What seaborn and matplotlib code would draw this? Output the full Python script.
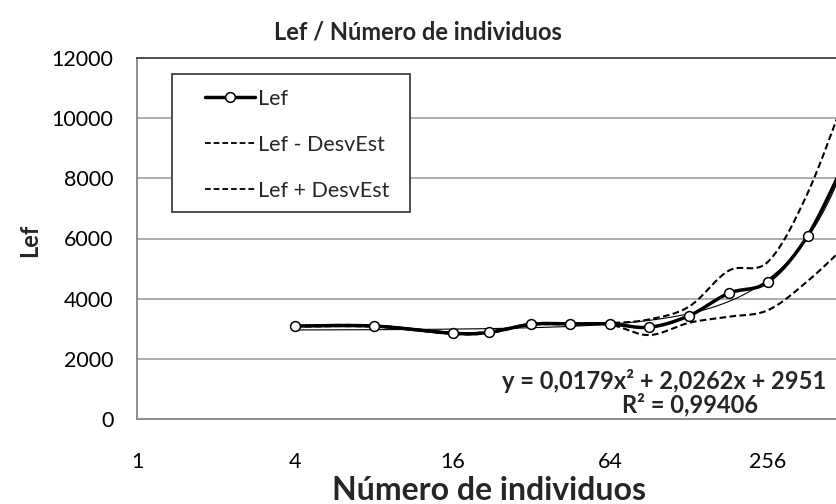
import numpy as np
import matplotlib
matplotlib.use("Agg")
import matplotlib.pyplot as plt
from matplotlib.lines import Line2D
from matplotlib.patches import Rectangle
from matplotlib.ticker import FixedLocator, FixedFormatter, NullLocator
import seaborn as sns

# Number of individuals (x) and effective length per group
individuos = [4, 8, 16, 22, 32, 45, 64, 90, 128, 181, 256, 362, 512]
lef = [3090, 3090, 2850, 2880, 3150, 3160, 3160, 3050, 3435, 4180, 4555, 6085, 8700]
lef_menos = [3070, 3070, 2830, 2860, 3130, 3140, 3130, 2790, 3200, 3400, 3620, 4580, 5800]
lef_mas = [3110, 3110, 2870, 2900, 3170, 3180, 3190, 3310, 3740, 4930, 5230, 7500, 10900]

# Polynomial trendline coefficients (a*x^2 + b*x + c) and fit quality
coef_a, coef_b, coef_c = 0.0179, 2.0262, 2951
r2 = 0.99406

x_ticks = [1, 4, 16, 64, 256]
y_ticks = [0, 2000, 4000, 6000, 8000, 10000, 12000]

sns.set_style("white")
plt.rcParams["font.family"] = ["Lato", "DejaVu Sans"]


def smooth_curve(xs, ys, n=40):
    """Bezier smoothing (Catmull-Rom style) in log2(x) space."""
    u = np.log2(np.asarray(xs, dtype=float))
    v = np.asarray(ys, dtype=float)
    pts = np.column_stack([u, v])
    ext = np.vstack([pts[0], pts, pts[-1]])
    t = np.linspace(0, 1, n)[:, None]
    out = []
    for i in range(len(pts) - 1):
        p0, p1, p2, p3 = ext[i], ext[i + 1], ext[i + 2], ext[i + 3]
        c1 = p1 + (p2 - p0) / 6.0
        c2 = p2 - (p3 - p1) / 6.0
        seg = ((1 - t) ** 3) * p1 + 3 * ((1 - t) ** 2) * t * c1 \
            + 3 * (1 - t) * t ** 2 * c2 + t ** 3 * p2
        out.append(seg if i == 0 else seg[1:])
    curve = np.vstack(out)
    return 2.0 ** curve[:, 0], curve[:, 1]


fig = plt.figure(figsize=(8.36, 5.04), dpi=100)
W, H = 836, 504
ax = fig.add_axes([137 / W, 1 - 419 / H, (847 - 137) / W, (419 - 58) / H])
ax.set_xscale("log", base=2)
ax.set_xlim(1, 512)
ax.set_ylim(0, 12000)

grid_c = "#a6a6a6"
for yv in y_ticks[1:-1]:
    ax.axhline(yv, color=grid_c, lw=1.3, zorder=0)

dash = (0, (3.2, 1.6))
xs, ys = smooth_curve(individuos, lef_menos)
sns.lineplot(x=xs, y=ys, ax=ax, sort=False, estimator=None, color="black",
             lw=1.5, linestyle=dash, zorder=2)
xs, ys = smooth_curve(individuos, lef_mas)
sns.lineplot(x=xs, y=ys, ax=ax, sort=False, estimator=None, color="black",
             lw=1.5, linestyle=dash, zorder=2)

# Trendline from the fitted polynomial
xt = np.geomspace(individuos[0], individuos[-1], 300)
yt = coef_a * xt ** 2 + coef_b * xt + coef_c
sns.lineplot(x=xt, y=yt, ax=ax, sort=False, estimator=None, color="black",
             lw=0.8, zorder=3)

xs, ys = smooth_curve(individuos, lef)
sns.lineplot(x=xs, y=ys, ax=ax, sort=False, estimator=None, color="black",
             lw=2.5, zorder=4)
sns.scatterplot(x=individuos, y=lef, ax=ax, marker="o", s=50, facecolor="white",
                edgecolor="black", linewidth=1.1, zorder=5, clip_on=True)

ax.xaxis.set_major_locator(FixedLocator(x_ticks))
ax.xaxis.set_major_formatter(FixedFormatter([str(v) for v in x_ticks]))
ax.xaxis.set_minor_locator(NullLocator())
ax.set_yticks(y_ticks)
ax.set_yticklabels([str(v) for v in y_ticks])
ax.tick_params(axis="x", length=0, pad=24, labelsize=15.5, labelcolor="black")
ax.tick_params(axis="y", length=0, pad=17, labelsize=15.5, labelcolor="black")

for side in ("left", "bottom"):
    ax.spines[side].set_color("#868686")
    ax.spines[side].set_linewidth(1.3)
ax.spines["top"].set_color("#404040")
ax.spines["top"].set_linewidth(1.3)
ax.spines["right"].set_visible(False)

fig.text(0.5, 1 - 32 / H, "Lef / Número de individuos", ha="center", va="center",
         fontsize=17, fontweight="bold")
fig.text(489 / W, 1 - 500 / H, "Número de individuos", ha="center", va="baseline",
         fontsize=23, fontweight="bold")
fig.text(30 / W, 1 - 240 / H, "Lef", ha="center", va="center", rotation=90,
         fontsize=17, fontweight="bold")

fig.text(826 / W, 1 - 381 / H, "y = 0,0179x² + 2,0262x + 2951", ha="right",
         va="center", fontsize=17, fontweight="bold")
fig.text(690 / W, 1 - 405 / H, f"R² = {str(r2).replace('.', ',')}", ha="center",
         va="center", fontsize=17, fontweight="bold")

# Legend box
fig.patches.append(Rectangle((172 / W, 1 - 212 / H), (410 - 172) / W, (212 - 74) / H,
                             transform=fig.transFigure, fill=True, facecolor="white",
                             edgecolor="#404040", lw=1.3, zorder=6))
handles = [
    Line2D([], [], color="black", lw=2.5, marker="o", markersize=7,
           markerfacecolor="white", markeredgecolor="black", markeredgewidth=1.1),
    Line2D([], [], color="black", lw=1.3, linestyle=dash),
    Line2D([], [], color="black", lw=1.3, linestyle=dash),
]
leg = fig.legend(handles, ["Lef", "Lef - DesvEst", "Lef + DesvEst"],
                 loc="upper left", bbox_to_anchor=(205 / W, 1 - 89 / H),
                 frameon=False, fontsize=15.5, handlelength=2.3, handletextpad=0.15,
                 labelspacing=1.2, borderpad=0, borderaxespad=0, markerscale=1)
leg.set_zorder(7)

fig.savefig("out.png", dpi=100)
